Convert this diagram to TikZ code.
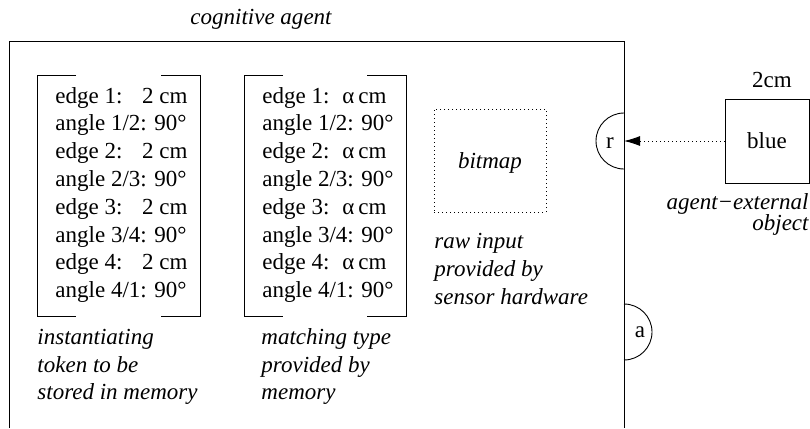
\documentclass[tikz,border=0pt]{standalone}
\usepackage{fontspec}
\setmainfont{Liberation Serif}
\usetikzlibrary{arrows.meta}
\begin{document}
\begin{tikzpicture}[x=1pt,y=-1pt,
  line width=0.9pt,
  txt/.style={inner sep=0pt,anchor=base west,font=\fontsize{23}{27.8}\selectfont},
  txtr/.style={txt,anchor=base east},
  txtc/.style={txt,anchor=base},
  itxt/.style={txt,font=\fontsize{23}{27.8}\selectfont\itshape},
  dotline/.style={dash pattern=on 1pt off 3pt}]
\useasboundingbox (0,0) rectangle (810,428);
% agent box (open at bottom)
\draw (9,428) -- (9,41) -- (624,41) -- (624,428);
\node[itxt,anchor=base] (title) at (261,25) {cognitive agent};
% brackets
\draw (76,75) -- (37,75) -- (37,316) -- (76,316);
\draw (161,75) -- (200,75) -- (200,316) -- (161,316);
\draw (283,75) -- (244,75) -- (244,316) -- (283,316);
\draw (367,75) -- (406,75) -- (406,316) -- (367,316);
% token and type columns
\foreach \i/\j in {1/2,2/3,3/4,4/1}{
  \pgfmathsetmacro{\ye}{103+(\i-1)*55.6}
  \pgfmathsetmacro{\ya}{\ye+27.8}
  \node[txt] (te\i) at (55,\ye) {edge \i:};
  \node[txtr] (tv\i) at (188,\ye) {2 cm};
  \node[txt] (ta\i) at (55,\ya) {angle \i/\j: 90°};
  \node[txt] (me\i) at (262,\ye) {edge \i:};
  \node[txt] (mv\i) at (342,\ye) {α\,cm};
  \node[txt] (ma\i) at (262,\ya) {angle \i/\j: 90°};
}
\node[itxt] (t1) at (37,344) {instantiating};
\node[itxt] (t2) at (37,372) {token to be};
\node[itxt] (t3) at (37,399) {stored in memory};
\node[itxt] (m1) at (261,344) {matching type};
\node[itxt] (m2) at (261,372) {provided by};
\node[itxt] (m3) at (261,399) {memory};
% bitmap
\node[draw,dotline,minimum width=112pt,minimum height=103pt,inner sep=0pt,
      text height=16pt,text depth=0pt,
      font=\fontsize{23}{27.8}\selectfont\itshape] (bitmap) at (490,160.5) {bitmap};
\node[itxt] (r1) at (434,248) {raw input};
\node[itxt] (r2) at (434,276) {provided by};
\node[itxt] (r3) at (434,304) {sensor hardware};
% semicircles
\draw (624,113) arc[start angle=90,end angle=270,radius=28pt];
\node[txtc] (r) at (610,148) {r};
\draw (624,304) arc[start angle=90,end angle=-90,radius=28pt];
\node[txtc] (a) at (640,337) {a};
% external object
\node[draw,minimum width=84pt,minimum height=84pt,inner sep=0pt,
      font=\fontsize{23}{27.8}\selectfont] (blue) at (767,141) {blue};
\node[txtc] (size) at (772,87) {2cm};
\node[itxt,anchor=base east] (ext1) at (809,209) {agent−external};
\node[itxt,anchor=base east] (ext2) at (809,230) {object};
\coordinate (rin) at (624,141);
\draw[dotline,-{Latex[length=16pt,width=10pt]}] (blue.west) -- (rin);
\end{tikzpicture}
\end{document}
